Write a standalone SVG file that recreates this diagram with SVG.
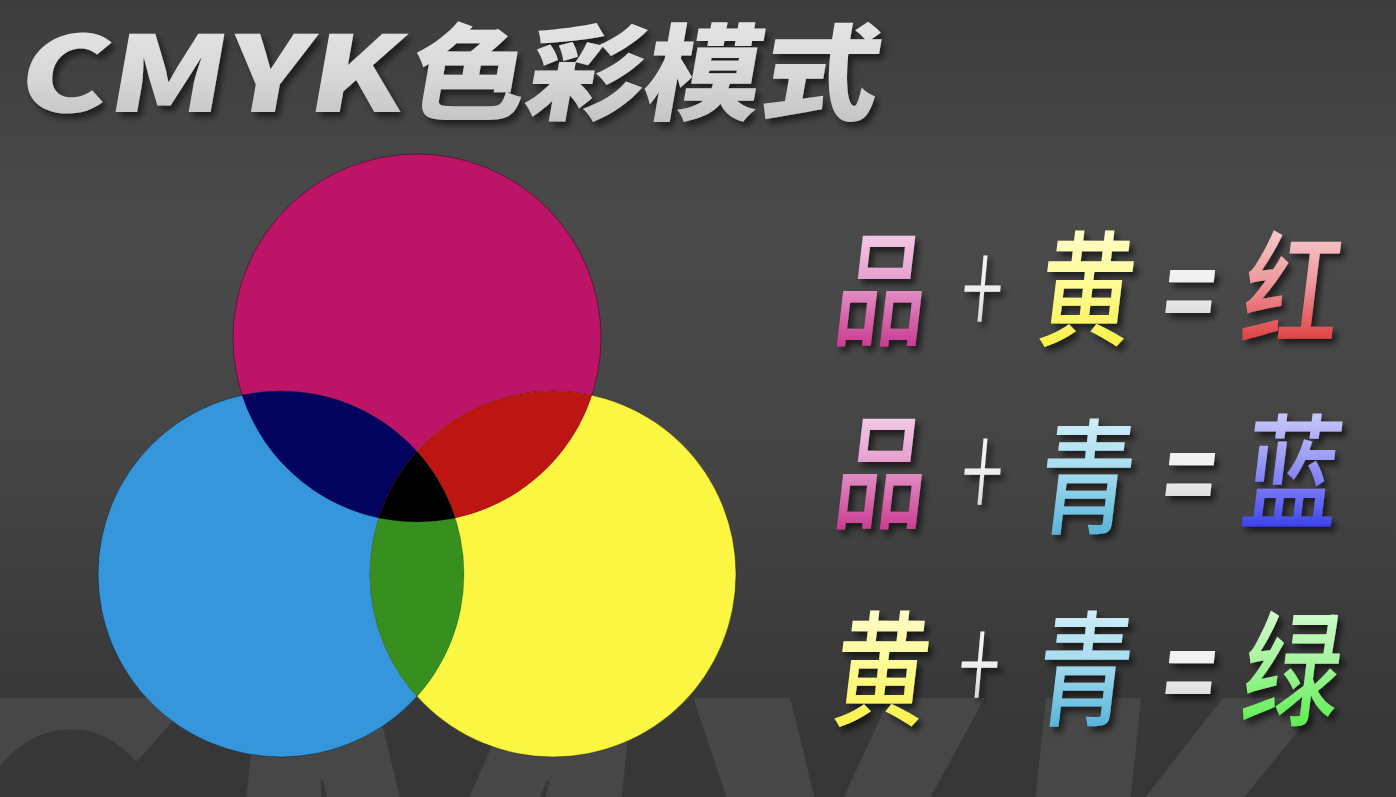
<svg xmlns="http://www.w3.org/2000/svg" width="1396" height="797" viewBox="0 0 1396 797">
<defs>
<style>
.cjk{font-family:"Noto Sans CJK SC","Noto Sans",sans-serif;}
.eq{font-size:125px;font-weight:500;text-anchor:middle;}
.op{font-size:125px;text-anchor:middle;fill:url(#gW);}
.circ{stroke:#000;stroke-opacity:0.18;stroke-width:1;}
</style>
<linearGradient id="bg" x1="0" y1="0" x2="0" y2="1">
<stop offset="0" stop-color="#3d3d3d"/>
<stop offset="0.28" stop-color="#4a4a4a"/>
<stop offset="0.6" stop-color="#444444"/>
<stop offset="0.88" stop-color="#383838"/>
<stop offset="1" stop-color="#363636"/>
</linearGradient>
<linearGradient id="gTitle" x1="0" y1="0" x2="0" y2="1">
<stop offset="0" stop-color="#ececec"/>
<stop offset="0.6" stop-color="#d6d6d6"/>
<stop offset="1" stop-color="#bcbcbc"/>
</linearGradient>
<linearGradient id="gW" x1="0" y1="0" x2="0" y2="1">
<stop offset="0" stop-color="#ffffff"/>
<stop offset="0.55" stop-color="#eeeeee"/>
<stop offset="1" stop-color="#b4b4b4"/>
</linearGradient>
<linearGradient id="gPin" x1="0" y1="0" x2="0" y2="1">
<stop offset="0" stop-color="#fdf0fa"/>
<stop offset="0.45" stop-color="#e8a6d2"/>
<stop offset="1" stop-color="#c0177a"/>
</linearGradient>
<linearGradient id="gHuang" x1="0" y1="0" x2="0" y2="1">
<stop offset="0" stop-color="#ffffec"/>
<stop offset="0.5" stop-color="#fdfb98"/>
<stop offset="1" stop-color="#f8ee2c"/>
</linearGradient>
<linearGradient id="gHong" x1="0" y1="0" x2="0" y2="1">
<stop offset="0" stop-color="#fdecef"/>
<stop offset="0.5" stop-color="#ef9a9e"/>
<stop offset="1" stop-color="#d81212"/>
</linearGradient>
<linearGradient id="gQing" x1="0" y1="0" x2="0" y2="1">
<stop offset="0" stop-color="#eefaff"/>
<stop offset="0.5" stop-color="#a6dcf0"/>
<stop offset="1" stop-color="#38a4cf"/>
</linearGradient>
<linearGradient id="gLan" x1="0" y1="0" x2="0" y2="1">
<stop offset="0" stop-color="#eeeeff"/>
<stop offset="0.45" stop-color="#a0a0f6"/>
<stop offset="0.75" stop-color="#5a5ef2"/>
<stop offset="1" stop-color="#0612e0"/>
</linearGradient>
<linearGradient id="gLv" x1="0" y1="0" x2="0" y2="1">
<stop offset="0" stop-color="#f2fff0"/>
<stop offset="0.5" stop-color="#a8f4a0"/>
<stop offset="1" stop-color="#3cee30"/>
</linearGradient>
<filter id="sh" x="-30%" y="-30%" width="170%" height="170%">
<feDropShadow dx="4" dy="5" stdDeviation="3" flood-color="#000" flood-opacity="0.6"/>
</filter>
<filter id="shT" filterUnits="userSpaceOnUse" x="0" y="0" width="1000" height="160">
<feDropShadow dx="4" dy="5" stdDeviation="3" flood-color="#000" flood-opacity="0.55"/>
</filter>
<clipPath id="clipBand"><rect x="0" y="698" width="1396" height="99"/></clipPath>
<clipPath id="clipM"><circle cx="417" cy="338" r="184"/></clipPath>
<clipPath id="clipC"><circle cx="281" cy="574" r="183"/></clipPath>
</defs>

<rect x="0" y="0" width="1396" height="797" fill="url(#bg)"/>

<g id="watermark" clip-path="url(#clipBand)">
<text class="cjk" x="-70" y="1068" font-size="560" font-weight="900" fill="#474747" textLength="1520" lengthAdjust="spacingAndGlyphs" transform="skewX(-6)">CMYK</text>
</g>

<g id="title" filter="url(#shT)">
<text class="cjk" y="112" font-weight="900" font-size="105" fill="url(#gTitle)" transform="skewX(-10) translate(14 0)"><tspan x="20" textLength="385" lengthAdjust="spacingAndGlyphs">CMYK</tspan><tspan x="410" textLength="470" lengthAdjust="spacingAndGlyphs">色彩模式</tspan></text>
</g>

<g id="venn">
<circle class="circ" cx="417" cy="338" r="184" fill="#be1467"/>
<circle class="circ" cx="281" cy="574" r="183" fill="#3596db"/>
<circle class="circ" cx="553" cy="574" r="183" fill="#fbf641"/>
<circle cx="281" cy="574" r="183" fill="#01035e" clip-path="url(#clipM)"/>
<circle cx="553" cy="574" r="183" fill="#bc1512" clip-path="url(#clipM)"/>
<circle cx="553" cy="574" r="183" fill="#37901d" clip-path="url(#clipC)"/>
<g clip-path="url(#clipC)"><circle cx="553" cy="574" r="183" fill="#000000" clip-path="url(#clipM)"/></g>
<circle cx="281" cy="574" r="183" fill="none" stroke="#000" stroke-opacity="0.2"/>
<circle cx="553" cy="574" r="183" fill="none" stroke="#000" stroke-opacity="0.2"/>
<circle cx="417" cy="338" r="184" fill="none" stroke="#000" stroke-opacity="0.2"/>
</g>

<g id="row1" class="cjk" filter="url(#sh)">
<text class="eq" fill="url(#gPin)" transform="translate(877 336) scale(0.74 1) skewX(-9)">品</text>
<text class="op" font-weight="300" transform="translate(978 338) scale(0.62 1.08) skewX(-9)">+</text>
<text class="eq" fill="url(#gHuang)" transform="translate(1082 336) scale(0.76 1) skewX(-9)">黄</text>
<text class="op" font-weight="700" transform="translate(1185 336) scale(0.7 0.95) skewX(-9)">=</text>
<text class="eq" fill="url(#gHong)" transform="translate(1287 336) scale(0.78 1) skewX(-9)">红</text>
</g>

<g id="row2" class="cjk" filter="url(#sh)">
<text class="eq" fill="url(#gPin)" transform="translate(877 519) scale(0.74 1) skewX(-9)">品</text>
<text class="op" font-weight="300" transform="translate(978 521) scale(0.62 1.08) skewX(-9)">+</text>
<text class="eq" fill="url(#gQing)" transform="translate(1082 524) scale(0.76 1) skewX(-9)">青</text>
<text class="op" font-weight="700" transform="translate(1185 519) scale(0.7 0.95) skewX(-9)">=</text>
<text class="eq" fill="url(#gLan)" transform="translate(1287 519) scale(0.78 1) skewX(-9)">蓝</text>
</g>

<g id="row3" class="cjk" filter="url(#sh)">
<text class="eq" fill="url(#gHuang)" transform="translate(877 716) scale(0.76 1) skewX(-9)">黄</text>
<text class="op" font-weight="300" transform="translate(975 714) scale(0.62 1.08) skewX(-9)">+</text>
<text class="eq" fill="url(#gQing)" transform="translate(1080 716) scale(0.76 1) skewX(-9)">青</text>
<text class="op" font-weight="700" transform="translate(1185 717) scale(0.7 0.95) skewX(-9)">=</text>
<text class="eq" fill="url(#gLv)" transform="translate(1287 716) scale(0.78 1) skewX(-9)">绿</text>
</g>
</svg>
